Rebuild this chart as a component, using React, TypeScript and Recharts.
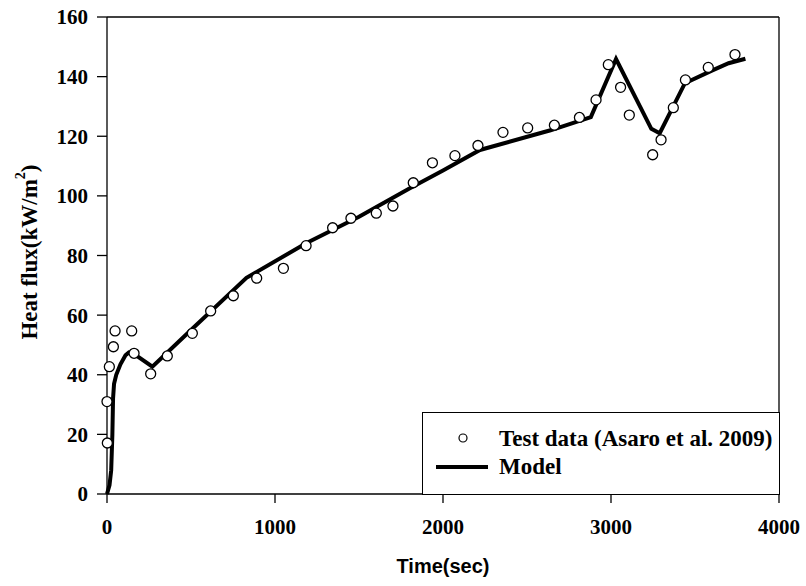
import {
  ComposedChart,
  Line,
  Scatter,
  XAxis,
  YAxis,
  Legend,
  ReferenceLine,
} from "recharts";

// Test data (Asaro et al. 2009)
const testTime = [
  0, 2, 14, 38, 48, 147, 161, 260, 359, 508, 617, 752, 891, 1050, 1185, 1343,
  1452, 1603, 1702, 1823, 1937, 2071, 2208, 2357, 2504, 2663, 2812, 2911, 2984,
  3057, 3109, 3248, 3298, 3371, 3443, 3579, 3738,
];
const testFlux = [
  31, 17.1, 42.7, 49.4, 54.7, 54.7, 47.2, 40.3, 46.3, 53.9, 61.4, 66.5, 72.4,
  75.7, 83.3, 89.3, 92.5, 94.2, 96.6, 104.4, 111.1, 113.5, 116.9, 121.3, 122.8,
  123.7, 126.3, 132.2, 144, 136.4, 127.1, 113.8, 118.8, 129.6, 138.9, 143.1,
  147.4,
];

// Model
const modelTime = [
  0, 15, 25, 32, 36, 42, 55, 80, 110, 130, 160, 270, 500, 830, 1185, 1500, 1800,
  2000, 2220, 2640, 2880, 3030, 3240, 3290, 3440, 3600, 3700, 3800,
];
const modelFlux = [
  0, 3, 8, 20, 32, 37, 40, 43.5, 46.5, 47.5, 47, 42.7, 55, 72.5, 84.1, 93,
  102.5, 108.5, 115.4, 122, 126.4, 145.9, 122.5, 121, 137.8, 142, 144.5, 146,
];

const xTicks = [0, 1000, 2000, 3000, 4000];
const yTicks = [0, 20, 40, 60, 80, 100, 120, 140, 160];

const testData = testTime.map((t, i) => ({ t, v: testFlux[i] }));
const modelData = modelTime.map((t, i) => ({ t, v: modelFlux[i] }));

const SERIF = "'Liberation Serif', 'Times New Roman', serif";
const SANS = "'Liberation Sans', Arial, sans-serif";

function OpenCircle(props: { cx?: number; cy?: number }) {
  const { cx, cy } = props;
  if (cx == null || cy == null) return null;
  return <circle cx={cx} cy={cy} r={5} fill="#fff" stroke="#000" strokeWidth={1.3} />;
}

function YLabel() {
  return (
    <text
      x={29}
      y={252}
      transform="rotate(-90 29 252)"
      textAnchor="middle"
      dominantBaseline="central"
      fontFamily={SERIF}
      fontWeight="bold"
      fontSize={23}
      fill="#000"
    >
      Heat flux(kW/m
      <tspan dy={-9} fontSize={14}>
        2
      </tspan>
      <tspan dy={9}>)</tspan>
    </text>
  );
}

function LegendBox() {
  return (
    <div
      style={{
        width: 358,
        height: 83,
        boxSizing: "border-box",
        border: "1.3px solid #000",
        background: "#fff",
      }}
    >
      <svg width={356} height={81}>
        <circle cx={40} cy={25} r={4} fill="#fff" stroke="#000" strokeWidth={1.2} />
        <text x={76} y={33} fontFamily={SERIF} fontWeight="bold" fontSize={23} fill="#000">
          Test data (Asaro et al. 2009)
        </text>
        <line x1={13} x2={65} y1={54} y2={54} stroke="#000" strokeWidth={4} />
        <text x={76} y={61} fontFamily={SERIF} fontWeight="bold" fontSize={23} fill="#000">
          Model
        </text>
      </svg>
    </div>
  );
}

export default function App() {
  return (
    <div style={{ position: "absolute", left: 0, top: 0, background: "#fff" }}>
      <ComposedChart
        width={806}
        height={586}
        margin={{ top: 17, right: 27, bottom: 12, left: 10 }}
      >
        <XAxis
          dataKey="t"
          type="number"
          domain={[0, 4000]}
          ticks={xTicks}
          height={80}
          stroke="#000"
          strokeWidth={1.3}
          tickSize={9}
          tickMargin={16}
          tick={{ fontSize: 21, fontFamily: SERIF, fontWeight: "bold", fill: "#000" }}
          label={{
            value: "Time(sec)",
            position: "insideBottom",
            offset: 1,
            fontSize: 20,
            fontFamily: SANS,
            fontWeight: "bold",
            fill: "#000",
          }}
        />
        <YAxis
          dataKey="v"
          type="number"
          domain={[0, 160]}
          ticks={yTicks}
          width={97}
          stroke="#000"
          strokeWidth={1.3}
          tickSize={10}
          tickMargin={9}
          tick={{ fontSize: 21, fontFamily: SERIF, fontWeight: "bold", fill: "#000" }}
          label={<YLabel />}
        />
        <ReferenceLine y={160} stroke="#000" strokeWidth={1.3} />
        <ReferenceLine x={4000} stroke="#000" strokeWidth={1.3} />
        <Line
          data={modelData}
          dataKey="v"
          type="linear"
          stroke="#000"
          strokeWidth={4}
          dot={false}
          activeDot={false}
          isAnimationActive={false}
        />
        <Scatter
          data={testData}
          dataKey="v"
          shape={<OpenCircle />}
          isAnimationActive={false}
        />
        <Legend
          layout="vertical"
          align="center"
          verticalAlign="middle"
          content={<LegendBox />}
          wrapperStyle={{ left: 422, top: 412, width: 358, height: 83 }}
        />
      </ComposedChart>
    </div>
  );
}
